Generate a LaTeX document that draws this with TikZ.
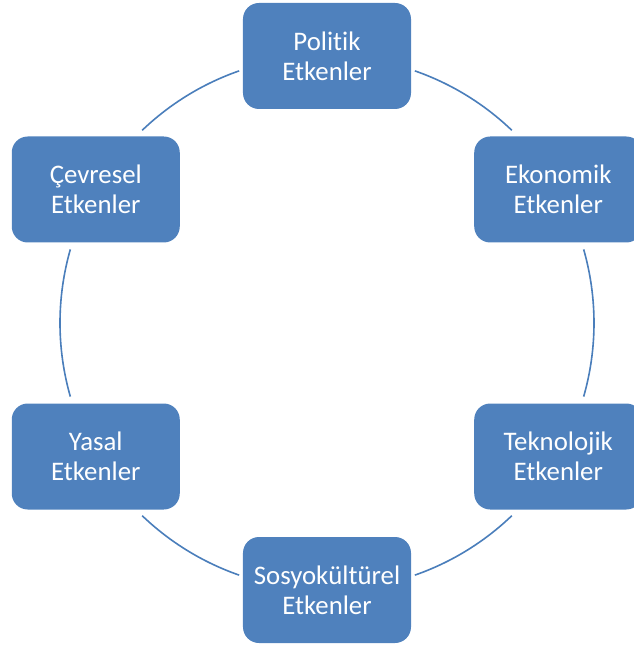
\documentclass[tikz,border=0pt]{standalone}
\usepackage{fontspec}
\setmainfont{Carlito}[Ligatures=NoCommon]
\definecolor{boxblue}{HTML}{4F81BD}
\definecolor{ringblue}{HTML}{4A7EBB}
\tikzset{
  etken/.style={rectangle, rounded corners=12pt, fill=boxblue, text=white,
    minimum width=126pt, minimum height=79.5pt, align=center,
    font=\fontsize{20.1}{22.5}\selectfont},
  ring/.style={draw=ringblue, line width=1.2pt}
}
\begin{document}
\begin{tikzpicture}[x=0.75pt,y=0.75pt]
\useasboundingbox (-327,-323) rectangle (307,323);
\coordinate (c) at (0,0);
\foreach \a/\b in {70.8/46.2, 16/-16, -46.2/-70.8, -109.2/-133.8, 164/196, 133.8/109.2} {
  \draw[ring] (c) ++(\a:267) arc[start angle=\a, end angle=\b, radius=200.25pt];
}
\node[etken] (pol) at (90:267) {Politik\\Etkenler};
\node[etken] (eko) at (30:267) {Ekonomik\\Etkenler};
\node[etken] (tek) at (-30:267) {Teknolojik\\Etkenler};
\node[etken] (sos) at (-90:267) {Sosyokültürel\\Etkenler};
\node[etken] (yas) at (-150:267) {Yasal\\Etkenler};
\node[etken] (cev) at (150:267) {Çevresel\\Etkenler};
\end{tikzpicture}
\end{document}
